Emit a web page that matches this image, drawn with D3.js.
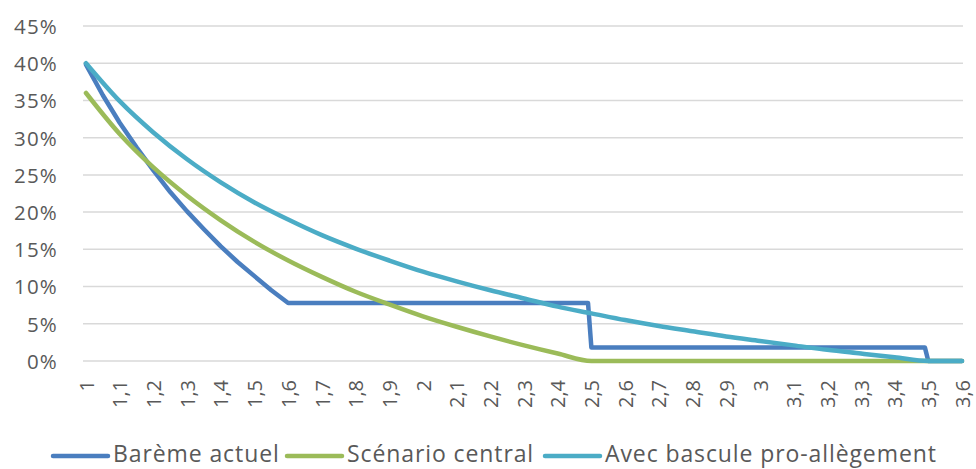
<!DOCTYPE html>
<html><head><meta charset="utf-8">
<script src="https://cdn.jsdelivr.net/npm/d3@7"></script>
<style>body{margin:0;background:#fff}svg{display:block}text{font-family:"Open Sans",Lato,sans-serif;fill:#595959}</style>
</head><body><svg id="c" width="976" height="469"></svg>
<script>
const xTicks = [1,1.1,1.2,1.3,1.4,1.5,1.6,1.7,1.8,1.9,2,2.1,2.2,2.3,2.4,2.5,2.6,2.7,2.8,2.9,3,3.1,3.2,3.3,3.4,3.5,3.6];
const yTicks = [0,0.05,0.1,0.15,0.2,0.25,0.3,0.35,0.4,0.45];

const baremeX = [1,1.05,1.1,1.15,1.2,1.25,1.3,1.35,1.4,1.45,1.5,1.55,1.6,2.49,2.5,3.49,3.5,3.6];
const baremeY = [0.398,0.357,0.320,0.287,0.256,0.227,0.201,0.177,0.154,0.133,0.114,0.095,0.078,0.078,0.018,0.018,0,0];

const centralX = [1,1.1,1.2,1.3,1.4,1.5,1.6,1.7,1.8,1.9,2,2.1,2.2,2.3,2.4,2.5,3.6];
const centralY = [0.36,0.305,0.26,0.222,0.189,0.16,0.135,0.113,0.093,0.076,0.06,0.046,0.033,0.021,0.01,0,0];

const basculeX = [1,1.1,1.2,1.3,1.4,1.5,1.6,1.7,1.8,1.9,2,2.1,2.2,2.3,2.4,2.5,2.6,2.7,2.8,2.9,3,3.1,3.2,3.3,3.4,3.5,3.6];
const basculeY = [0.40,0.349,0.307,0.271,0.24,0.213,0.19,0.169,0.151,0.135,0.12,0.107,0.095,0.084,0.073,0.064,0.055,0.047,0.04,0.033,0.027,0.021,0.015,0.01,0.005,0,0];

const seriesNames = ["Barème actuel","Scénario central","Avec bascule pro-allègement"];
const colors = ["#4a7ebf","#9bbb59","#4bacc6"];

const svg = d3.select("#c");
const x = d3.scaleLinear().domain([1,3.6]).range([86,962]);
const y = d3.scaleLinear().domain([0,0.45]).range([361,26]);

svg.append("g").selectAll("line").data(yTicks).join("line")
  .attr("x1",83).attr("x2",963)
  .attr("y1",d=>y(d)).attr("y2",d=>y(d))
  .attr("stroke","#d9d9d9").attr("stroke-width",1.5);

const yAxis = d3.axisLeft(y).tickValues(yTicks).tickFormat(d=>Math.round(d*100)+"%").tickSize(0).tickPadding(0);
const gy = svg.append("g").attr("transform","translate(58,0)").call(yAxis);
gy.select(".domain").remove();
gy.selectAll("text").attr("font-size",20.5).attr("font-family","'Open Sans',sans-serif").attr("fill","#595959")
  .attr("letter-spacing",1.2).attr("dy","0.36em");

const fmt = d => String(Math.round(d*10)/10).replace(".",",");
const xAxis = d3.axisBottom(x).tickValues(xTicks).tickFormat(fmt).tickSize(0).tickPadding(0);
const gx = svg.append("g").attr("transform","translate(0,380)").call(xAxis);
gx.select(".domain").remove();
gx.selectAll("text").attr("font-size",20).attr("font-family","'Open Sans',sans-serif").attr("fill","#595959")
  .attr("text-anchor","end").attr("transform","rotate(-90)").attr("x",0).attr("y",0).attr("dy","0.36em");

const data = [
  baremeX.map((v,i)=>[v,baremeY[i]]),
  centralX.map((v,i)=>[v,centralY[i]]),
  basculeX.map((v,i)=>[v,basculeY[i]])
];
const curves = [d3.curveLinear, d3.curveMonotoneX, d3.curveMonotoneX];
[0,1,2].forEach(i=>{
  const line = d3.line().x(d=>x(d[0])).y(d=>y(d[1])).curve(curves[i]);
  svg.append("path").attr("d",line(data[i])).attr("fill","none")
    .attr("stroke",colors[i]).attr("stroke-width",4.5)
    .attr("stroke-linecap","round").attr("stroke-linejoin","round");
});

const legX = [53,287,545];
const legG = svg.append("g");
seriesNames.forEach((n,i)=>{
  legG.append("line").attr("x1",legX[i]).attr("x2",legX[i]+55).attr("y1",456).attr("y2",456)
    .attr("stroke",colors[i]).attr("stroke-width",4.5).attr("stroke-linecap","round");
  legG.append("text").attr("x",legX[i]+60).attr("y",462).attr("font-size",23).attr("letter-spacing",0.9).text(n);
});
</script></body></html>
